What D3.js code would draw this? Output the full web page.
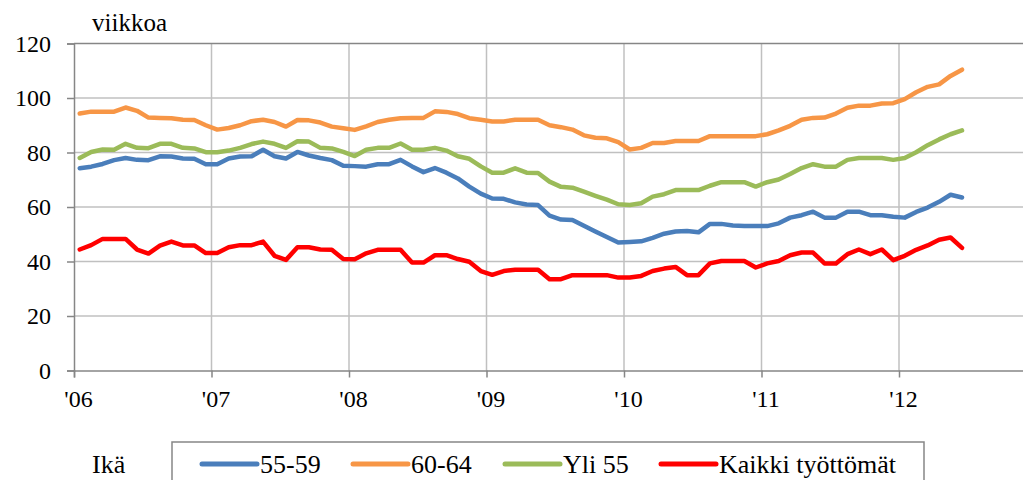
<!DOCTYPE html>
<html><head><meta charset="utf-8">
<script src="https://cdn.jsdelivr.net/npm/d3@7"></script>
<style>
html,body{margin:0;padding:0;background:#fff;font-family:"Liberation Serif",serif;}
text{font-family:"Liberation Serif",serif;}
</style></head>
<body>
<div id="wrap" style="width:1023px;height:480px;font-family:'Liberation Serif'"><svg id="c" width="1023" height="480" font-family="Liberation Serif"></svg></div>
<script>
const yearLabels = ["'06","'07","'08","'09","'10","'11","'12"];
const yTicks = [0,20,40,60,80,100,120];
const seriesNames = ["55-59","60-64","Yli 55","Kaikki työttömät"];
const seriesColors = ["#4A7EBB","#F79646","#9BBB59","#FF0000"];

// monthly values Jan 2006 .. Jun 2012
const s5559 = [74.2,74.8,75.8,77.2,78,77.3,77.2,78.6,78.5,77.8,77.7,75.7,
  75.7,77.8,78.5,78.6,81,78.6,77.8,80.2,78.9,78,77.2,75.1,
  75,74.8,75.7,75.7,77.3,74.9,72.8,74.3,72.6,70.5,67.5,64.9,
  63.1,63,61.7,60.9,60.7,56.8,55.4,55.2,53.1,51,49,47,
  47.2,47.4,48.7,50.2,51,51.2,50.7,53.8,53.8,53.2,53,53,
  53,54,56.1,57,58.3,56.1,56.1,58.3,58.3,57,57,56.4,
  56.1,58.2,59.8,61.9,64.5,63.5];
const s6064 = [94.3,95,95,95,96.5,95.3,92.8,92.7,92.6,92,91.9,90,
  88.4,89,90,91.5,92,91.2,89.5,91.9,91.8,91,89.5,88.9,
  88.3,89.6,91.2,92,92.6,92.7,92.7,95.1,94.9,94.1,92.6,92,
  91.4,91.4,92,92,92,90,89.3,88.4,86.3,85.4,85.2,83.8,
  81.1,81.7,83.5,83.5,84.2,84.2,84.2,86,86,86,86,86,
  86.7,88.1,89.8,92,92.7,92.8,94.3,96.4,97.2,97.2,98,98.1,
  99.6,102.1,104.1,105,108.1,110.4];
const sYli55 = [78,80.2,81.1,81,83.2,81.7,81.6,83.2,83.2,81.7,81.5,80.1,
  80.1,80.7,81.7,83.1,84,83.2,81.7,84.1,84,81.7,81.5,80.2,
  78.7,81,81.7,81.7,83.3,81,81,81.7,80.7,78.6,77.7,74.9,
  72.6,72.6,74.2,72.6,72.5,69.3,67.4,67.1,65.6,64.1,62.7,61,
  60.7,61.4,63.8,64.7,66.2,66.2,66.2,67.8,69.1,69.1,69.1,67.5,
  69.1,70.1,72.1,74.3,75.7,74.8,74.8,77.3,78,78,78,77.3,
  78,80.1,82.7,84.8,86.7,88.1];
const sKaikki = [44.4,46,48.3,48.3,48.3,44.4,42.9,45.8,47.3,45.9,45.9,43.1,
  43.1,45.2,46,46,47.3,42.1,40.6,45.2,45.2,44.4,44.3,40.9,
  40.8,43,44.3,44.3,44.3,39.6,39.6,42.3,42.3,40.9,39.9,36.5,
  35.1,36.5,37,37,37,33.5,33.5,35,35,35,35,34.1,
  34.1,34.7,36.5,37.4,38,35,35,39.3,40.2,40.2,40.2,37.8,
  39.3,40.2,42.3,43.3,43.3,39.3,39.3,42.7,44.4,42.7,44.4,40.5,
  42.1,44.3,45.9,48,48.8,45];

const seriesValues = [s5559, s6064, sYli55, sKaikki];
const FONT = "Liberation Serif";

const svg = d3.select("#c");
const x = d3.scaleLinear().domain([0,84]).range([74,1036.5]);
const y = d3.scaleLinear().domain([0,120]).range([370.5,43.5]);
const gridCol = "#C0C0C0", axisCol = "#868686";

function serif(sel){ return sel.attr("font-family",FONT).attr("fill","#000"); }

svg.append("g").selectAll("line").data(yTicks.filter(d=>d>0&&d<120)).join("line")
  .attr("x1",x(0)).attr("x2",1023).attr("y1",d=>y(d)).attr("y2",d=>y(d))
  .attr("stroke",gridCol).attr("stroke-width",1.5);
svg.append("g").selectAll("line").data(yearLabels.slice(1).map((d,i)=>(i+1)*12)).join("line")
  .attr("x1",d=>x(d)).attr("x2",d=>x(d)).attr("y1",y(120)).attr("y2",y(0))
  .attr("stroke",gridCol).attr("stroke-width",1.5);
svg.append("line").attr("x1",x(0)).attr("x2",1023).attr("y1",y(120)).attr("y2",y(120))
  .attr("stroke",axisCol).attr("stroke-width",1.5);

const yAxis = d3.axisLeft(y).tickValues(yTicks).tickSize(7).tickPadding(16);
const gy = svg.append("g").attr("transform",`translate(${x(0)},0)`).call(yAxis);
gy.attr("font-family",FONT);
gy.select(".domain").attr("stroke",axisCol).attr("stroke-width",1.5);
gy.selectAll(".tick line").attr("stroke",axisCol).attr("stroke-width",1.5);
serif(gy.selectAll(".tick text")).attr("font-size",24);

const xAxis = d3.axisBottom(x).tickValues(yearLabels.map((d,i)=>i*12))
  .tickFormat((d,i)=>yearLabels[i]).tickSize(7).tickPadding(12);
const gx = svg.append("g").attr("transform",`translate(0,${y(0)})`).call(xAxis);
gx.attr("font-family",FONT);
gx.select(".domain").attr("stroke",axisCol).attr("stroke-width",1.5);
gx.selectAll(".tick line").attr("stroke",axisCol).attr("stroke-width",1.5);
serif(gx.selectAll(".tick text")).attr("font-size",24).attr("dx",4);

serif(svg.append("text")).attr("x",92).attr("y",31).attr("font-size",25).text("viikkoa");

const line = d3.line().x((d,i)=>x(i+0.5)).y(d=>y(d));
svg.append("g").selectAll("path").data(seriesValues).join("path")
  .attr("d",line).attr("fill","none")
  .attr("stroke",(d,i)=>seriesColors[i]).attr("stroke-width",4.5)
  .attr("stroke-linejoin","round").attr("stroke-linecap","round");

serif(svg.append("text")).attr("x",92).attr("y",473).attr("font-size",26).text("Ikä");
svg.append("rect").attr("x",172).attr("y",442).attr("width",752).attr("height",60)
  .attr("fill","none").attr("stroke",axisCol).attr("stroke-width",1.5);
const legX = [202,353,505,661];
const lg = svg.append("g").selectAll("g").data(seriesNames).join("g")
  .attr("transform",(d,i)=>`translate(${legX[i]},0)`);
lg.append("line").attr("x1",0).attr("x2",55).attr("y1",464).attr("y2",464)
  .attr("stroke",(d,i)=>seriesColors[i]).attr("stroke-width",5).attr("stroke-linecap","round");
serif(lg.append("text")).attr("x",58).attr("y",473).attr("font-size",26).text(d=>d);
</script>
</body></html>
